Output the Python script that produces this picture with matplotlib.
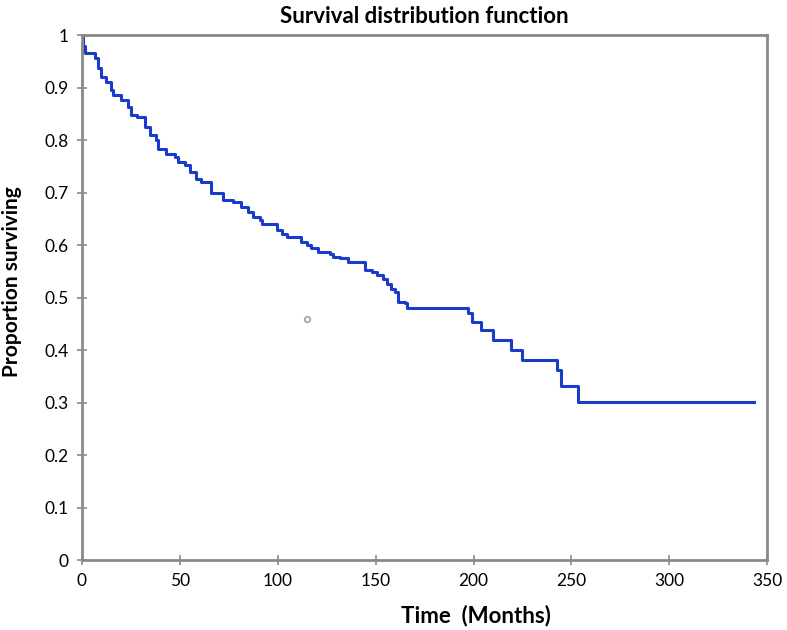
import matplotlib.pyplot as plt

# Kaplan-Meier estimate (time in months, survival after that time)
times = [0, 0.5, 1.5, 6.5, 8.3, 10, 12.5, 15, 16, 20, 23.7, 25.3, 28, 32, 34.7,
         38, 39, 43, 47.5, 49, 52.5, 55, 58.5, 61, 66, 72, 77, 81.5, 85, 87.5,
         91, 92, 99.5, 102, 105, 112, 115, 117, 120.6, 126.7, 128, 131.8, 136,
         144.6, 148, 150.5, 154, 155.6, 158, 160, 161.6, 165, 166, 197.4, 199,
         204, 210, 219, 224.6, 242.5, 244.7, 253.2, 343]
surv = [1.0, 0.98, 0.966, 0.956, 0.937, 0.921, 0.911, 0.895, 0.886, 0.876, 0.863,
        0.848, 0.845, 0.825, 0.81, 0.80, 0.784, 0.774, 0.768, 0.759, 0.752, 0.740,
        0.727, 0.721, 0.699, 0.686, 0.683, 0.673, 0.664, 0.654, 0.648, 0.641,
        0.629, 0.622, 0.616, 0.606, 0.60, 0.594, 0.587, 0.584, 0.578, 0.575,
        0.568, 0.552, 0.549, 0.543, 0.536, 0.527, 0.517, 0.511, 0.492, 0.489,
        0.48, 0.47, 0.454, 0.438, 0.419, 0.401, 0.382, 0.362, 0.331, 0.302, 0.302]

# stray open marker and small red censor marks near zero
stray_t, stray_s = [115], [0.46]
red_t, red_s = [0.4, 0.8], [0.985, 0.97]

xticks = [0, 50, 100, 150, 200, 250, 300, 350]
yticks = [0, 0.1, 0.2, 0.3, 0.4, 0.5, 0.6, 0.7, 0.8, 0.9, 1]
ylabels = ['0', '0.1', '0.2', '0.3', '0.4', '0.5', '0.6', '0.7', '0.8', '0.9', '1']

plt.rcParams['font.family'] = ['Lato', 'DejaVu Sans']

fig = plt.figure(figsize=(7.87, 6.3), dpi=100)
ax = fig.add_axes([0.104, 0.111, 0.871, 0.833])

ax.step(times, surv, where='post', color='#1a3ccc', lw=2.2)
ax.plot(red_t, red_s, '|', color='#c0304a', ms=5, mew=1.5)
ax.plot(stray_t, stray_s, 'o', mfc='none', mec='#a0a0a0', ms=4, mew=1.2)

ax.set_xlim(0, 350)
ax.set_ylim(0, 1)
ax.set_xticks(xticks)
ax.set_yticks(yticks)
ax.set_yticklabels(ylabels)

for s in ax.spines.values():
    s.set_color('#8a8a8a')
    s.set_linewidth(2)
ax.tick_params(direction='inout', length=7, width=1.2, color='#8a8a8a',
               labelsize=12.5, pad=6)

ax.set_title('Survival distribution function', fontsize=16, fontweight='bold', pad=9)
ax.set_xlabel('Time  (Months)', fontsize=16, fontweight='bold')
ax.set_ylabel('Proportion surviving', fontsize=15, fontweight='bold')
ax.xaxis.set_label_coords(0.575, -0.085)
ax.yaxis.set_label_coords(-0.088, 0.53)

fig.savefig('out.png', dpi=100)
